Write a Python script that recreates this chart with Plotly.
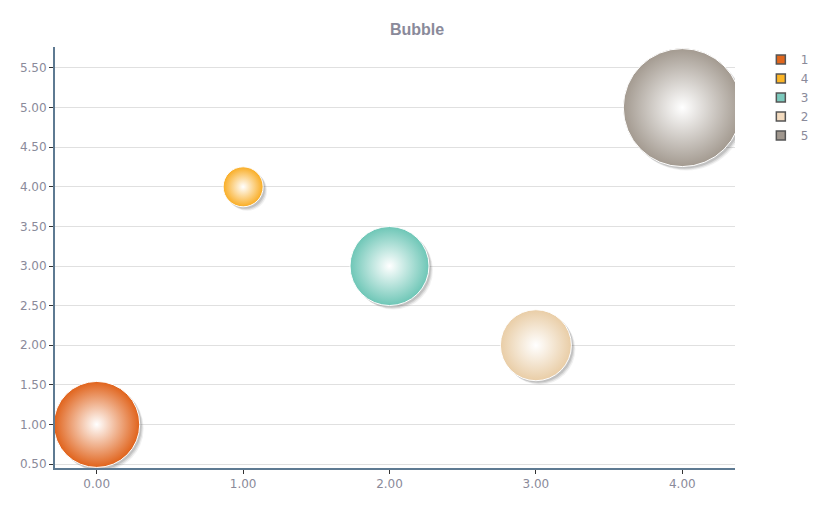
import plotly.graph_objects as go

# bubble data
names = ["1", "4", "3", "2", "5"]
x_vals = [0, 1, 2, 3, 4]
y_vals = [1, 4, 3, 2, 5]
bubble_vals = [43, 20, 39.5, 35.5, 59]
edge_colors = ["#E0621A", "#F9AC22", "#6DC6B6", "#E9CDA6", "#A39A90"]
legend_colors = ["#E0661C", "#FCB526", "#7CCABD", "#F3DBBF", "#A0978E"]

# axis setup (page body has an 8px margin, so the figure is a bit smaller)
x_range = [-0.285, 4.36]
y_range = [0.45, 5.765]
W, H = 818, 499
margin = dict(l=43, r=89, t=39, b=39)
px_x = (x_range[1] - x_range[0]) / (W - margin["l"] - margin["r"])
px_y = (y_range[1] - y_range[0]) / (H - margin["t"] - margin["b"])

fig = go.Figure()

# soft drop shadow, offset a few pixels down-right
for off, alpha in [(4, 0.10), (3, 0.18), (2, 0.22)]:
    fig.add_trace(go.Scatter(
        x=[v + off * px_x for v in x_vals],
        y=[v - off * px_y for v in y_vals],
        mode="markers",
        marker=dict(size=[b * 2 for b in bubble_vals], color="rgba(60,60,60,%s)" % alpha,
                    line=dict(width=0)),
        hoverinfo="skip", showlegend=False))

for i, n in enumerate(names):
    fig.add_trace(go.Scatter(
        x=[x_vals[i]], y=[y_vals[i]], mode="markers", name=n, legendgroup=n,
        showlegend=False,
        marker=dict(size=bubble_vals[i] * 2, color=edge_colors[i],
                    gradient=dict(type="radial", color="#FFFFFF"),
                    line=dict(color="#FFFFFF", width=1))))
    # legend swatch
    fig.add_trace(go.Scatter(
        x=[None], y=[None], mode="markers", name=n, legendgroup=n,
        marker=dict(symbol="square", size=9, color=legend_colors[i],
                    line=dict(color="#555555", width=1.5))))

axis_font = dict(family="DejaVu Sans", size=12, color="#8A8A9A")
fig.update_layout(
    width=W, height=H,
    margin=margin,
    paper_bgcolor="white", plot_bgcolor="white",
    title=dict(text="<b>Bubble</b>", x=0.5, xref="container", y=0.957, yanchor="middle",
               font=dict(family="Liberation Sans", size=16, color="#8A8A9A")),
    font=axis_font,
    legend=dict(x=1.038, y=1.005, xanchor="left", yanchor="top", itemwidth=30,
                tracegroupgap=0, font=dict(family="DejaVu Sans", size=12, color="#8A8A9A")),
    showlegend=True,
)
fig.update_xaxes(range=x_range, tickvals=x_vals, tickformat=".2f", showgrid=False,
                 zeroline=False, showline=True, linecolor="#5E7A92", linewidth=2,
                 ticks="outside", ticklen=4, tickcolor="#333333", tickfont=axis_font)
fig.update_yaxes(range=y_range, dtick=0.5, tick0=0.5, tickformat=".2f", showgrid=True,
                 gridcolor="#E0E0E0", gridwidth=1, zeroline=False, showline=True,
                 linecolor="#5E7A92", linewidth=2, ticks="outside", ticklen=4,
                 tickcolor="#333333", tickfont=axis_font)

fig.write_html("out.html")
